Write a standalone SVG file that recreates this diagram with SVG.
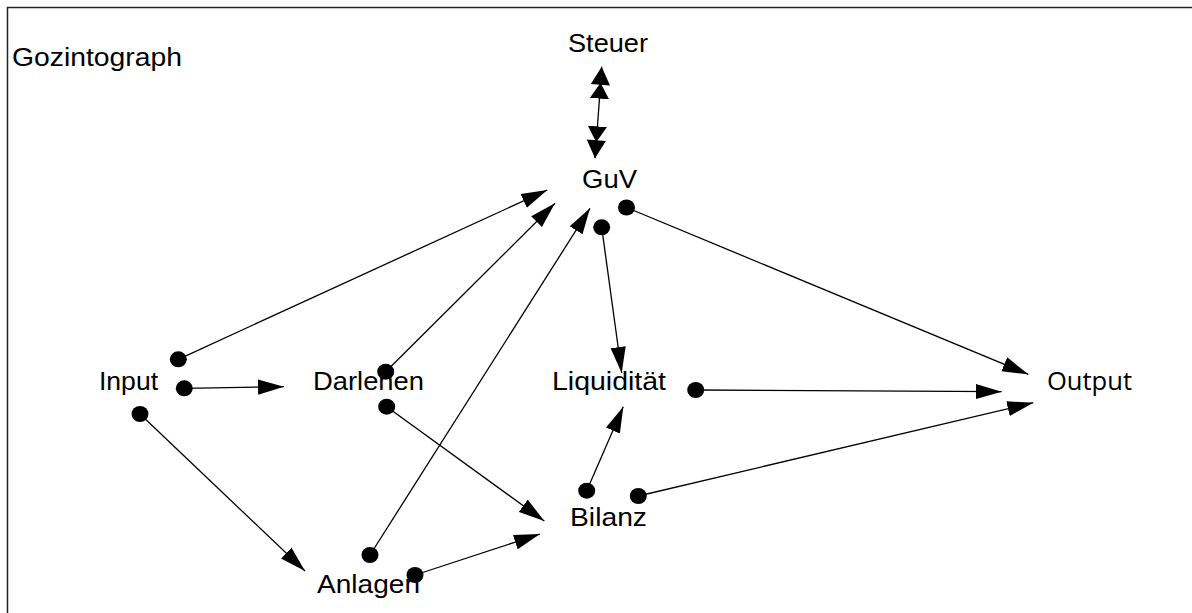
<svg xmlns="http://www.w3.org/2000/svg" width="1192" height="613" viewBox="0 0 1192 613">
<style>
.t{font-family:"Liberation Sans",Arial,sans-serif;font-size:26px;fill:#000}
.o{font-family:"Open Sans","Noto Sans",sans-serif;font-size:26px;fill:#000}
.c{stroke:#000;stroke-width:1.3;fill:none;marker-start:url(#dot);marker-end:url(#arr)}
.frame{stroke:#222;stroke-width:1.5;fill:none}
</style>
<defs>
<marker id="arr" markerUnits="userSpaceOnUse" markerWidth="26" markerHeight="16" viewBox="0 0 24 14" refX="24" refY="7" orient="auto">
<path d="M0,0 L24,7 L0,14 z" fill="#000"/>
</marker>
<marker id="dot" markerUnits="userSpaceOnUse" markerWidth="20" markerHeight="20" viewBox="-10 -10 20 20" refX="0" refY="0" orient="0">
<ellipse cx="0" cy="0" rx="8.5" ry="8" fill="#000"/>
</marker>
<marker id="arr2" markerUnits="userSpaceOnUse" markerWidth="32" markerHeight="20" viewBox="0 0 30 18" refX="30" refY="9" orient="auto">
<path d="M0,0 L15,9 L0,18 z M13,0 L30,9 L13,18 z" fill="#000"/>
</marker>
</defs>
<path class="frame" d="M7.5,613 V7.5 H1192"/>
<g id="title"><text class="t" x="12" y="66" textLength="170" lengthAdjust="spacingAndGlyphs">Gozintograph</text></g>
<g id="steuer"><text class="t" x="568" y="52" textLength="80" lengthAdjust="spacingAndGlyphs">Steuer</text></g>
<g id="guv"><text class="t" x="582" y="188" textLength="55" lengthAdjust="spacingAndGlyphs">GuV</text></g>
<g id="input"><text class="t" x="99" y="390" textLength="59" lengthAdjust="spacingAndGlyphs">Input</text></g>
<g id="darlehen"><text class="t" x="313" y="390" textLength="111" lengthAdjust="spacingAndGlyphs">Darlehen</text></g>
<g id="liquiditaet"><text class="t" x="552" y="390" textLength="114" lengthAdjust="spacingAndGlyphs">Liquidität</text></g>
<g id="output"><text class="o" x="1047" y="390" textLength="85" lengthAdjust="spacingAndGlyphs">Output</text></g>
<g id="bilanz"><text class="t" x="570" y="526" textLength="77" lengthAdjust="spacingAndGlyphs">Bilanz</text></g>
<g id="anlagen"><text class="t" x="317" y="593" textLength="103" lengthAdjust="spacingAndGlyphs">Anlagen</text></g>
<g id="connectors">
<path class="c" d="M178.3,359.3 L547.3,190"/>
<path class="c" d="M184.3,388.3 L284,386.7"/>
<path class="c" d="M140,414 L305,571"/>
<path class="c" d="M385.7,371.7 L555,203.3"/>
<path class="c" d="M386.7,406.7 L544.3,521"/>
<path class="c" d="M370,555 L590,208.3"/>
<path class="c" d="M415,575 L540,534"/>
<path class="c" d="M601.7,227.3 L621.7,373"/>
<path class="c" d="M626.5,207.5 L1028.3,374.3"/>
<path class="c" d="M695.7,390 L1001.7,391.7"/>
<path class="c" d="M586.7,490.7 L623.3,406.7"/>
<path class="c" d="M638.3,496 L1033.3,402.7"/>
<path d="M598.5,112 L601.7,66.7" stroke="#000" stroke-width="1.3" fill="none" marker-end="url(#arr2)"/>
<path d="M598.5,112 L595,158.3" stroke="#000" stroke-width="1.3" fill="none" marker-end="url(#arr2)"/>
</g>
</svg>
